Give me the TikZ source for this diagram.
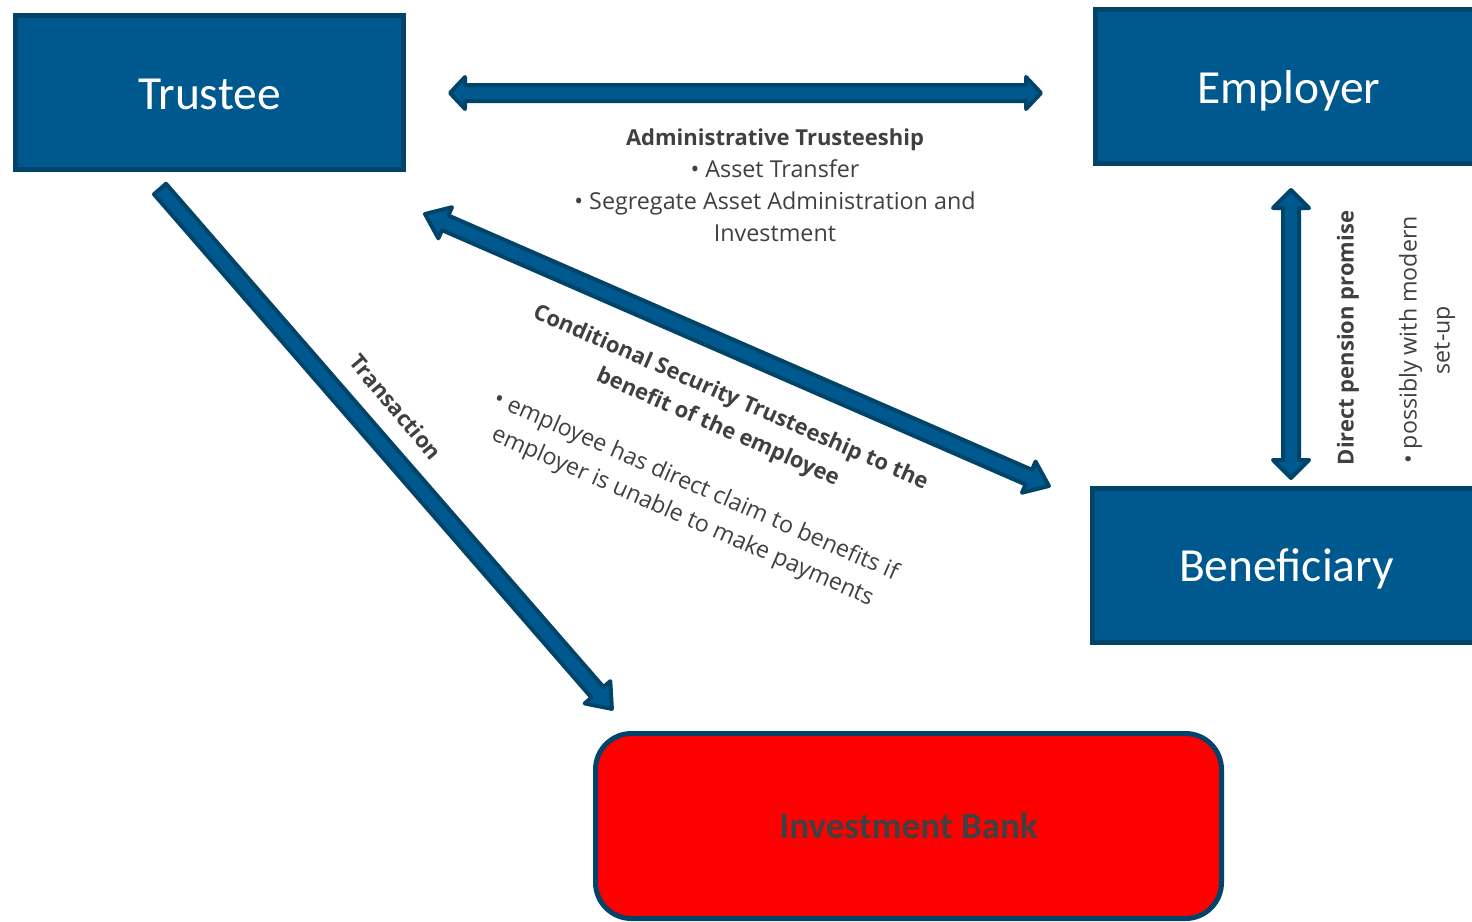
\documentclass[tikz,border=0pt]{standalone}
\usepackage{fontspec}
\setmainfont{Open Sans}
\newfontfamily\boxfont{Carlito}
\usetikzlibrary{calc}
\definecolor{boxblue}{RGB}{0,89,142}
\definecolor{boxedge}{RGB}{0,68,106}
\definecolor{txt}{RGB}{64,64,64}
\definecolor{bankred}{RGB}{255,0,0}
\tikzset{
  party/.style={draw=boxedge, fill=boxblue, line width=5pt, text=white,
    font=\boxfont\fontsize{47.5}{50}\selectfont, minimum width=388pt,
    minimum height=154pt, inner sep=0pt, text height=33pt, text depth=0pt},
  bankbox/.style={draw=boxedge, fill=bankred, line width=5pt, text=txt,
    font=\boxfont\bfseries\fontsize{37}{40}\selectfont, minimum width=626pt,
    minimum height=185pt, rounded corners=36pt, inner sep=0pt},
  blockarrow/.style={draw=boxedge, fill=boxblue, line width=4pt, line join=round},
  lbl/.style={text=txt, font=\fontsize{23.3}{32}\selectfont, align=center, inner sep=0pt},
  blbl/.style={lbl, font=\bfseries\fontsize{22}{32}\selectfont},
}
% double-headed block arrow: from, to, shaft half, head half, head length
\newcommand\dblarrow[5]{%
  \path[blockarrow] let \p1=(#1), \p2=(#2),
    \n1={atan2(\y2-\y1,\x2-\x1)}, \n2={veclen(\x2-\x1,\y2-\y1)},
    \n3={\n2-#5} in [shift={(\p1)}, rotate=\n1]
    (0pt,0pt) -- (#5pt,#4pt) -- (#5pt,#3pt) -- (\n3,#3pt) -- (\n3,#4pt)
    -- (\n2,0pt) -- (\n3,-#4pt) -- (\n3,-#3pt) -- (#5pt,-#3pt)
    -- (#5pt,-#4pt) -- cycle;}
% single-headed block arrow
\newcommand\sglarrow[5]{%
  \path[blockarrow] let \p1=(#1), \p2=(#2),
    \n1={atan2(\y2-\y1,\x2-\x1)}, \n2={veclen(\x2-\x1,\y2-\y1)},
    \n3={\n2-#5} in [shift={(\p1)}, rotate=\n1]
    (0pt,#3pt) -- (\n3,#3pt) -- (\n3,#4pt) -- (\n2,0pt)
    -- (\n3,-#4pt) -- (\n3,-#3pt) -- (0pt,-#3pt) -- cycle;}
\begin{document}
\begin{tikzpicture}[x=1pt, y=-1pt]
\path[use as bounding box, clip] (0,0) rectangle (1472,921);
\fill[white] (0,0) rectangle (1472,921);

\node[party] (trustee) at (209.5,92.5) {Trustee};
\node[party] (employer) at (1289,86.5) {Employer};
\node[party] (beneficiary) at (1286.5,565) {Beneficiary};
\node[bankbox] (bank) at (908.5,826) {Investment Bank};

\coordinate (h1) at (450,93);
\coordinate (h2) at (1041,93);
\coordinate (c1) at (425,214);
\coordinate (c2) at (1049,486);
\coordinate (t1) at (160,189);
\coordinate (t2) at (612,709);
\coordinate (v1) at (1291,190);
\coordinate (v2) at (1291,478);

\dblarrow{h1}{h2}{8}{16}{15}
\dblarrow{c1}{c2}{8}{17}{22}
\sglarrow{t1}{t2}{8}{17}{22}
\dblarrow{v1}{v2}{8}{18}{18}

\node[lbl] (admin) at (775,185) {{\bfseries\fontsize{22}{32}\selectfont Administrative Trusteeship}\\
  • Asset Transfer\\ • Segregate Asset Administration and\\ Investment};
\node[blbl, rotate=-23.6] (cond) at (724,413)
  {Conditional Security Trusteeship to the\\ benefit of the employee};
\node[lbl, rotate=-23.6, font=\fontsize{23.3}{33}\selectfont] (claim) at (689,502)
  {• employee has direct claim to benefits if\\ employer is unable to make payments};
\node[blbl, rotate=-50] (trans) at (396,407) {Transaction};
\node[blbl, rotate=90] (direct) at (1348,338) {Direct pension promise};
\node[lbl, rotate=90, font=\fontsize{23.2}{33}\selectfont] (modern) at (1427,340)
  {• possibly with modern\\ set-up};
\end{tikzpicture}
\end{document}
